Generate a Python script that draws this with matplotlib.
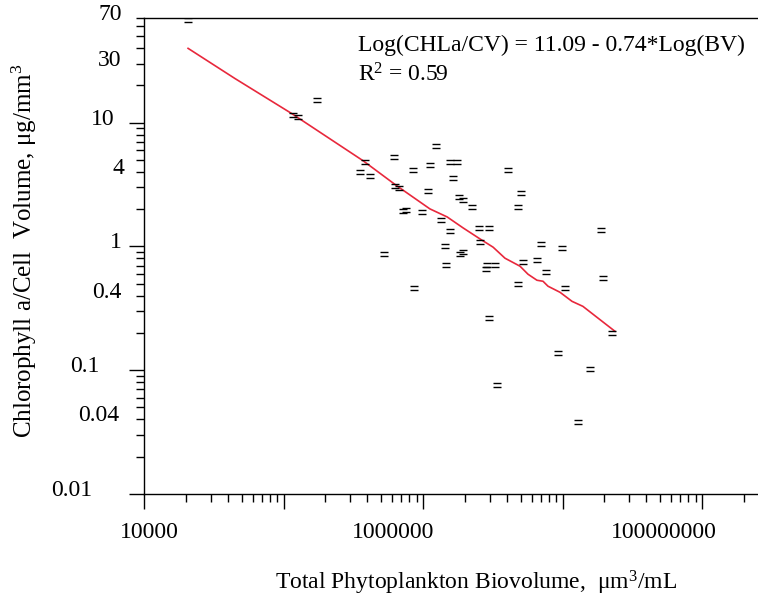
import numpy as np
import matplotlib
matplotlib.use("Agg")
import matplotlib.pyplot as plt
import matplotlib.transforms as mtransforms
from matplotlib.path import Path
from matplotlib.ticker import FixedLocator, FuncFormatter

# scatter points: total biovolume (um3/mL) vs chla / cell volume (ug/mm3)
biovolume = [2.07e4, 1.17e5, 1.27e5, 1.74e5, 3.53e5, 3.84e5, 4.17e5, 5.25e5,
             6.19e5, 6.30e5, 6.73e5, 7.19e5, 7.55e5, 8.47e5, 8.61e5, 9.84e5,
             1.09e6, 1.12e6, 1.24e6, 1.35e6, 1.44e6, 1.46e6, 1.56e6, 1.56e6,
             1.75e6, 1.64e6, 1.81e6, 1.94e6, 2.25e6, 1.84e6, 1.94e6, 2.52e6,
             2.97e6, 2.56e6, 2.83e6, 2.88e6, 3.28e6, 2.97e6, 3.39e6, 4.06e6,
             4.80e6, 5.05e6, 4.80e6, 5.21e6, 6.56e6, 7.01e6, 7.62e6, 9.29e6,
             9.92e6, 1.04e7, 1.29e7, 1.57e7, 1.89e7, 1.95e7, 2.26e7]
chla_cv = [68.0, 11.6, 11.2, 15.1, 4.01, 4.83, 3.72, 0.867,
           5.30, 3.08, 2.97, 1.93, 1.97, 4.16, 0.459, 1.90,
           2.81, 4.56, 6.50, 1.63, 1.00, 0.705, 1.33, 4.83,
           4.83, 3.58, 2.51, 2.37, 2.08, 0.867, 0.900, 1.41,
           1.41, 1.08, 0.655, 0.705, 0.705, 0.262, 0.0763, 4.16,
           2.08, 2.71, 0.495, 0.747, 0.775, 1.04, 0.619, 0.139,
           0.968, 0.459, 0.0383, 0.103, 1.36, 0.553, 0.198]

# red fitted curve, read along its length
fit_bv = [2.07e4, 4.49e4, 1.15e5, 3.72e5, 6.51e5, 1.12e6, 1.49e6, 1.94e6,
          2.56e6, 3.18e6, 3.87e6, 4.96e6, 5.66e6, 6.56e6, 7.25e6, 7.87e6,
          9.60e6, 1.17e7, 1.40e7, 1.77e7, 2.38e7]
fit_chla = [39.8, 22.7, 11.8, 4.92, 3.08, 2.01, 1.73, 1.41,
            1.15, 0.986, 0.803, 0.692, 0.596, 0.533, 0.523, 0.477,
            0.426, 0.360, 0.328, 0.267, 0.206]

x_label_vals = [1e4, 1e6, 1e8]
y_label_vals = [70, 30, 10, 4, 1, 0.4, 0.1, 0.04, 0.01]

plt.rcParams["font.family"] = ["Liberation Serif", "DejaVu Serif"]
plt.rcParams["mathtext.fontset"] = "custom"
plt.rcParams["mathtext.rm"] = "Liberation Serif"
plt.rcParams["mathtext.it"] = "Liberation Serif:italic"

FS = 17

fig = plt.figure(figsize=(7.58, 6.0), dpi=100)
ax = fig.add_axes([144 / 758, 106 / 600, 1 - 144 / 758, 476 / 600])

# "=" shaped marker
eq_marker = Path([(-1, 0.4), (1, 0.4), (-1, -0.4), (1, -0.4)],
                 [Path.MOVETO, Path.LINETO, Path.MOVETO, Path.LINETO])

ax.plot(fit_bv, fit_chla, color="#e8283c", lw=1.2, zorder=2)
ax.plot(biovolume, chla_cv, ls="none", marker=eq_marker, ms=6,
        mec="black", mew=1.0, zorder=3)

ax.set_xscale("log")
ax.set_yscale("log")
ax.set_xlim(1e4, 10 ** (4 + 614 / 139.5))
ax.set_ylim(0.01, 70)

ax.spines["right"].set_visible(False)
for s in ["left", "bottom", "top"]:
    ax.spines[s].set_linewidth(1.0)


def is_in(v, vals):
    return any(abs(v / t - 1) < 1e-6 for t in vals)


ax.xaxis.set_major_locator(FixedLocator([1e4, 1e5, 1e6, 1e7, 1e8]))
ax.xaxis.set_minor_locator(FixedLocator(
    [m * 10 ** e for e in range(4, 9) for m in range(2, 10)]))
ax.xaxis.set_major_formatter(FuncFormatter(
    lambda v, p: "%d" % round(v) if is_in(v, x_label_vals) else ""))
ax.xaxis.set_minor_formatter(FuncFormatter(lambda v, p: ""))

ax.yaxis.set_major_locator(FixedLocator([0.01, 0.1, 1, 10]))
ax.yaxis.set_minor_locator(FixedLocator(
    [m * 10.0 ** e for e in range(-2, 2) for m in range(2, 10)]))
ylab = FuncFormatter(lambda v, p: "%g" % v if is_in(v, y_label_vals) else "")
ax.yaxis.set_major_formatter(ylab)
ax.yaxis.set_minor_formatter(ylab)

ax.tick_params(which="both", direction="out", top=False, right=False,
               labelsize=FS, width=1.0)
ax.tick_params(which="major", length=11)
ax.tick_params(which="minor", length=6)
ax.tick_params(axis="x", which="both", pad=9)
ax.tick_params(axis="y", which="both", pad=10)


def nudge(label, dx, dy):
    # shift a tick label by dx, dy pixels
    label.set_transform(label.get_transform() + mtransforms.ScaledTranslation(
        dx / fig.dpi, dy / fig.dpi, fig.dpi_scale_trans))


x_shift = {1e4: 5, 1e6: -30, 1e8: -38}
for tick, loc in zip(ax.xaxis.get_major_ticks(), ax.xaxis.get_majorticklocs()):
    for k, dx in x_shift.items():
        if is_in(loc, [k]):
            nudge(tick.label1, dx, 0)

y_shift = {1: 7, 4: 3, 0.1: -15, 0.01: -23, 0.04: -3}
y_ticks = list(zip(ax.yaxis.get_major_ticks(), ax.yaxis.get_majorticklocs())) + \
    list(zip(ax.yaxis.get_minor_ticks(), ax.yaxis.get_minorticklocs()))
for tick, loc in y_ticks:
    dx = 0
    for k, v in y_shift.items():
        if is_in(loc, [k]):
            dx = v
    nudge(tick.label1, dx, 6)

ax.set_xlabel(r"Total Phytoplankton Biovolume,  $\mathrm{\mu m^3}$/mL", fontsize=FS)
ax.xaxis.set_label_coords(0.54, -0.158)
ax.set_ylabel(r"Chlorophyll a/Cell  Volume, $\mathrm{\mu g/mm^3}$", fontsize=18)
ax.yaxis.set_label_coords(-0.171, 0.51)

fig.text(358 / 758, 1 - 45 / 600, "Log(CHLa/CV) = 11.09 - 0.74*Log(BV)",
         fontsize=FS, va="center", ha="left")
fig.text(358 / 758, 1 - 75 / 600, r"R$^\mathrm{2}$ = 0.59",
         fontsize=FS, va="center", ha="left")

fig.savefig("out.png", dpi=100)
